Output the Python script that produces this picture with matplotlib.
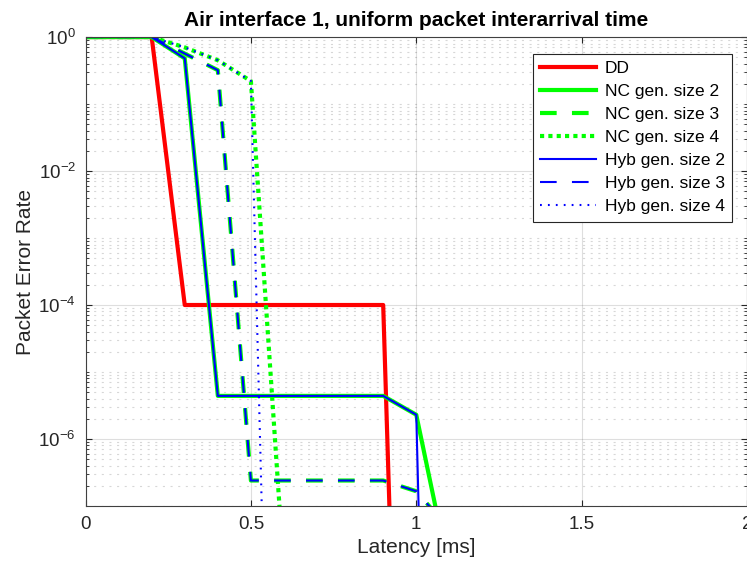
import matplotlib.pyplot as plt
import numpy as np
from matplotlib.ticker import LogLocator, NullFormatter

plt.rcParams['font.family'] = ['Liberation Sans', 'DejaVu Sans']
plt.rcParams['mathtext.fontset'] = 'custom'
plt.rcParams['mathtext.rm'] = 'Liberation Sans'
plt.rcParams['mathtext.it'] = 'Liberation Sans:italic'
plt.rcParams['lines.scale_dashes'] = False

# Latenza [ms] e tasso di errore per ciascuno schema
x_dd = [0, 0.2, 0.3, 0.9, 1.0]
per_dd = [1, 1, 1e-4, 1e-4, 1e-20]

x_nc2 = [0, 0.2, 0.3, 0.4, 0.9, 1.0, 1.1]
per_nc2 = [1, 1, 0.48, 4.4e-6, 4.4e-6, 2.3e-6, 1e-8]

x_nc3 = [0, 0.2, 0.4, 0.5, 0.9, 1.0, 1.1]
per_nc3 = [1, 1, 0.32, 2.4e-7, 2.4e-7, 1.66e-7, 4.5e-8]

x_nc4 = [0, 0.2, 0.3, 0.4, 0.5, 0.6]
per_nc4 = [1, 1, 0.7, 0.45, 0.22, 1e-8]

x_hyb2 = [0, 0.2, 0.3, 0.4, 0.9, 1.0, 1.1]
per_hyb2 = [1, 1, 0.48, 4.4e-6, 4.4e-6, 2.3e-6, 1e-25]

x_hyb3 = [0, 0.2, 0.4, 0.5, 0.9, 1.0, 1.1]
per_hyb3 = [1, 1, 0.32, 2.4e-7, 2.4e-7, 1.66e-7, 4.5e-8]

x_hyb4 = [0, 0.2, 0.3, 0.4, 0.5, 0.6]
per_hyb4 = [1, 1, 0.7, 0.45, 0.22, 1e-20]

fig = plt.figure(figsize=(7.47, 5.67), dpi=100)
ax = fig.add_axes([0.1145, 0.1076, 0.8855, 0.8271])

green = '#00ff00'
blue = '#0000ff'
ax.plot(x_dd, per_dd, color='#ff0000', lw=3, label='DD')
ax.plot(x_nc2, per_nc2, color=green, lw=3, label='NC gen. size 2')
ax.plot(x_nc3, per_nc3, color=green, lw=3, dashes=(12, 11), label='NC gen. size 3')
ax.plot(x_nc4, per_nc4, color=green, lw=3, dashes=(3, 3), label='NC gen. size 4')
ax.plot(x_hyb2, per_hyb2, color=blue, lw=1.5, label='Hyb gen. size 2')
ax.plot(x_hyb3, per_hyb3, color=blue, lw=1.5, dashes=(12, 11), label='Hyb gen. size 3')
ax.plot(x_hyb4, per_hyb4, color=blue, lw=1.5, dashes=(1.3, 4.4), label='Hyb gen. size 4')

ax.set_yscale('log')
ax.set_xlim(0, 2)
ax.set_ylim(1e-7, 1)
ax.set_xticks([0, 0.5, 1, 1.5, 2])
ax.set_xticklabels(['0', '0.5', '1', '1.5', '2'])
ax.set_yticks([1, 1e-2, 1e-4, 1e-6])
ax.yaxis.set_minor_locator(LogLocator(base=10, subs=np.arange(1, 10), numticks=20))
ax.yaxis.set_minor_formatter(NullFormatter())

# griglia stile MATLAB
ax.grid(True, which='major', color='#262626', alpha=0.15, lw=0.8, ls='-')
ax.grid(True, which='minor', axis='y', color='#262626', alpha=0.18, lw=0.8, ls=(0, (1.5, 4)))
ax.set_axisbelow(True)

for s in ax.spines.values():
    s.set_color('#404040')
    s.set_linewidth(0.8)
ax.tick_params(which='both', direction='in', top=True, right=True, colors='#262626', labelsize=13.5)
ax.tick_params(which='major', length=4)
ax.tick_params(which='minor', length=2.5)
ax.tick_params(axis='x', pad=7)
ax.tick_params(axis='y', pad=7)

ax.set_xlabel('Latency [ms]', fontsize=15, color='#262626', labelpad=4)
ax.set_ylabel('Packet Error Rate', fontsize=15, color='#262626', labelpad=2)
ax.set_title('Air interface 1, uniform packet interarrival time', fontsize=15, fontweight='bold', pad=8)

leg = ax.legend(loc='upper right', bbox_to_anchor=(0.9773, 0.9638), borderaxespad=0,
                fontsize=12.5, handlelength=3.2, handletextpad=0.5, labelspacing=0.45,
                borderpad=0.42, fancybox=False, framealpha=1)
leg.get_frame().set_edgecolor('#262626')
leg.get_frame().set_linewidth(0.8)

plt.savefig('out.png', dpi=100)
